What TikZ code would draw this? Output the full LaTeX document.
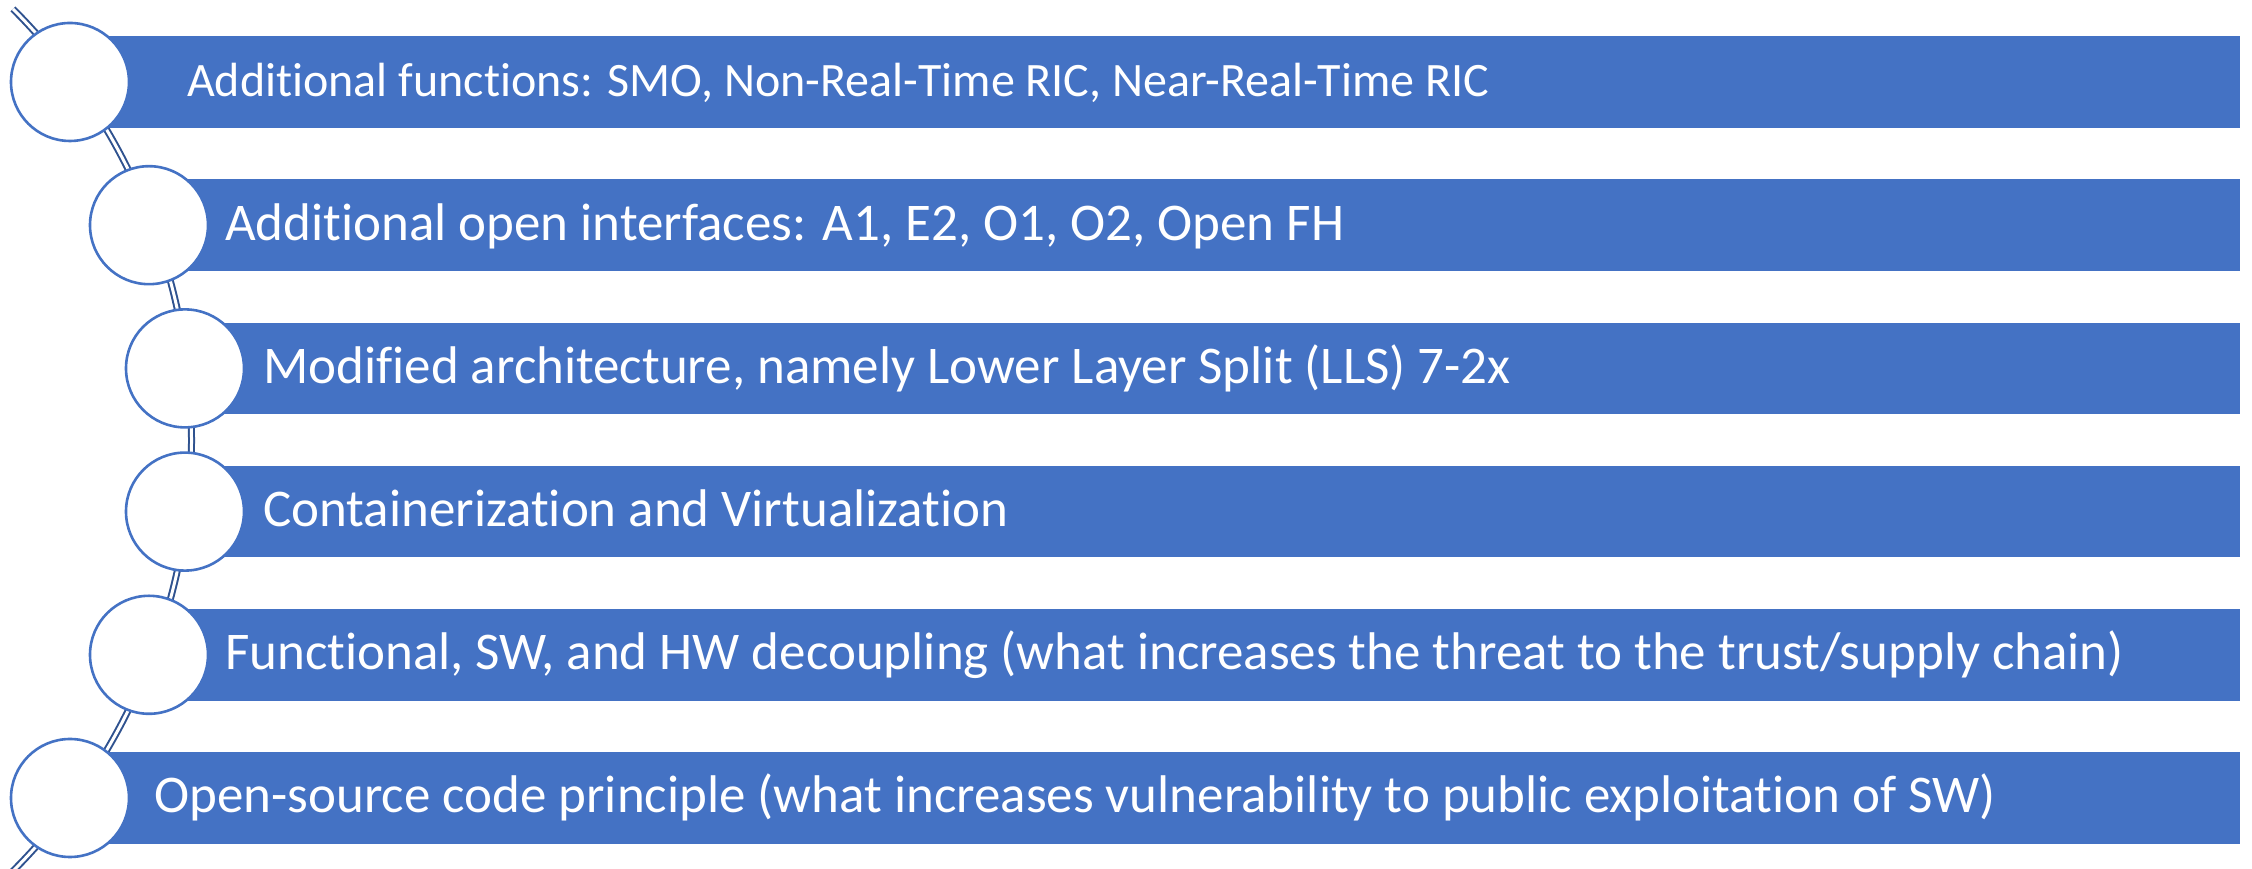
\documentclass[tikz,border=0pt]{standalone}
\usepackage{fontspec}
\setmainfont{Carlito}[Ligatures=NoCommon]
\definecolor{barblue}{HTML}{4472C4}
\definecolor{arcblue}{HTML}{2F528F}
\tikzset{
  barbox/.style={fill=barblue, draw=white, line width=1.5pt, minimum height=93pt,
    inner sep=0pt, anchor=west, rectangle},
  dot/.style={circle, fill=white, draw=barblue, line width=2.6pt, minimum size=118pt, inner sep=0pt},
  label/.style={anchor=base west, text=white, inner sep=0pt},
  bigtext/.style={font=\fontsize{53}{60}\selectfont},
  smalltext/.style={font=\fontsize{48}{55}\selectfont},
  spine/.style={draw=arcblue, line width=2pt, double=white, double distance=3pt}
}
\begin{document}
\begin{tikzpicture}[x=1pt,y=1pt]
\useasboundingbox (0,0) rectangle (2252,869);
\clip (0,0) rectangle (2252,869);
% bars, left end at the centre of each circle
\node[barbox, minimum width=2170pt] (b1) at (70,787) {};
\node[barbox, minimum width=2091pt] (b2) at (149,643.8) {};
\node[barbox, minimum width=2055pt] (b3) at (185,500.6) {};
\node[barbox, minimum width=2055pt] (b4) at (185,357.4) {};
\node[barbox, minimum width=2091pt] (b5) at (149,214.2) {};
\node[barbox, minimum width=2170pt] (b6) at (70,71) {};
% curved spine
\coordinate (ctr) at (-418.1,429);
\draw[spine] (ctr) ++(45:609.6) arc[start angle=45, end angle=-46, radius=609.6];
% circles on the spine
\node[dot] (c1) at (70,787) {};
\node[dot] (c2) at (149,643.8) {};
\node[dot] (c3) at (185,500.6) {};
\node[dot] (c4) at (185,357.4) {};
\node[dot] (c5) at (149,214.2) {};
\node[dot] (c6) at (70,71) {};
% texts
\node[label, smalltext] (t1) at (187,772) {Additional functions: SMO, Non-Real-Time RIC, Near-Real-Time RIC};
\node[label, bigtext] (t2) at (225,628.8) {Additional open interfaces: A1, E2, O1, O2, Open FH};
\node[label, bigtext] (t3) at (263,485.6) {Modified architecture, namely Lower Layer Split (LLS) 7-2x};
\node[label, bigtext] (t4) at (263,342.4) {Containerization and Virtualization};
\node[label, bigtext] (t5) at (225,199.2) {Functional, SW, and HW decoupling (what increases the threat to the trust/supply chain)};
\node[label, bigtext] (t6) at (154,56) {Open-source code principle (what increases vulnerability to public exploitation of SW)};
\end{tikzpicture}
\end{document}
